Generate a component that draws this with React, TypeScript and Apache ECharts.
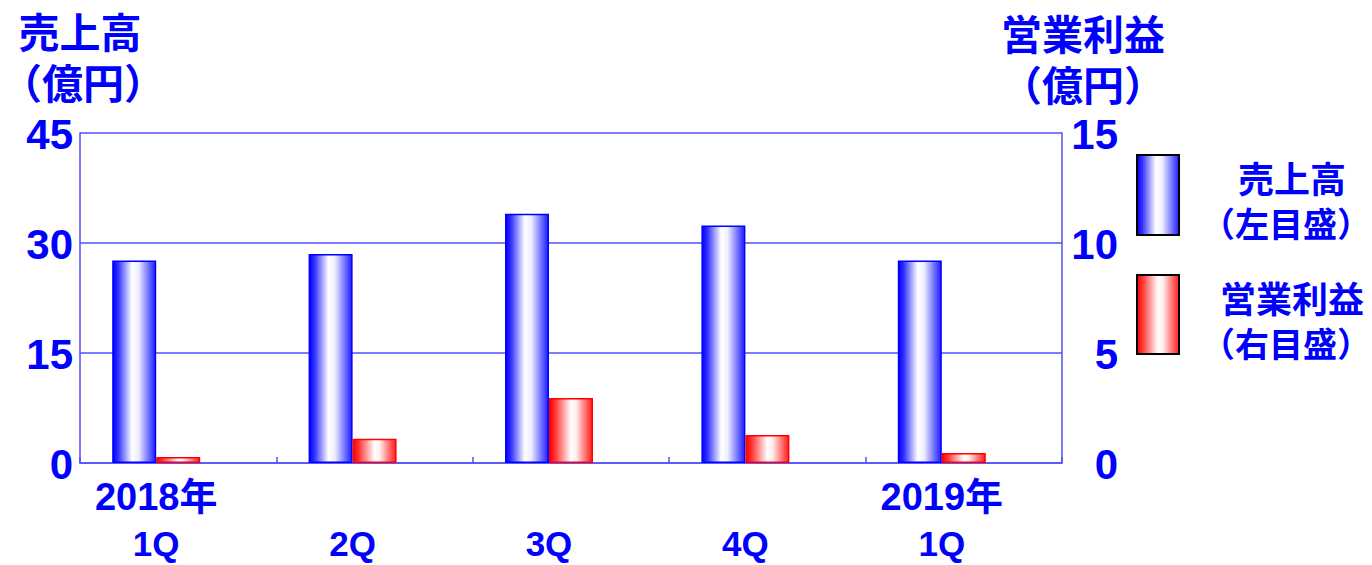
import React, { useEffect, useRef } from "react";
import * as echarts from "echarts";

const yearLabels = ["2018年", "", "", "", "2019年"];
const quarterLabels = ["1Q", "2Q", "3Q", "4Q", "1Q"];
const salesValues = [27.6, 28.5, 34.0, 32.4, 27.6];
const profitValues = [0.27, 1.1, 2.95, 1.27, 0.45];
const leftAxis = { min: 0, max: 45, interval: 15 };
const rightAxis = { min: 0, max: 15, interval: 5 };
const leftTitle = ["売上高", "（億円）"];
const rightTitle = ["営業利益", "（億円）"];
const salesLegend = ["売上高", "（左目盛）"];
const profitLegend = ["営業利益", "（右目盛）"];

const BLUE = "#0000ff";
const LINE = "#5050ff";
const CJK = "'Noto Sans CJK JP', sans-serif";
const LATIN = "'Liberation Sans', 'Noto Sans CJK JP', sans-serif";
const NARROW = "'Liberation Sans Narrow', 'Liberation Sans', sans-serif";

const blueGrad = {
  type: "linear",
  x: 0,
  y: 0,
  x2: 1,
  y2: 0,
  colorStops: [
    { offset: 0, color: "#0000ff" },
    { offset: 0.12, color: "#3030ff" },
    { offset: 0.45, color: "#ffffff" },
    { offset: 0.6, color: "#eeeeff" },
    { offset: 0.9, color: "#5050ff" },
    { offset: 1, color: "#2020ff" },
  ],
};
const redGrad = {
  type: "linear",
  x: 0,
  y: 0,
  x2: 1,
  y2: 0,
  colorStops: [
    { offset: 0, color: "#ff0000" },
    { offset: 0.12, color: "#ff3030" },
    { offset: 0.5, color: "#ffffff" },
    { offset: 0.62, color: "#ffeeee" },
    { offset: 0.9, color: "#ff5050" },
    { offset: 1, color: "#ff2020" },
  ],
};

function textEl(text: string, x: number, y: number, size: number) {
  return {
    type: "text",
    x,
    y,
    style: {
      text,
      fill: BLUE,
      font: `bold ${size}px ${CJK}`,
      align: "center",
      verticalAlign: "middle",
    },
  };
}

export default function App() {
  const ref = useRef<HTMLDivElement>(null);
  useEffect(() => {
    if (!ref.current) return;
    const chart = echarts.init(ref.current, undefined, { renderer: "svg" });
    const option: any = {
      animation: false,
      backgroundColor: "#ffffff",
      grid: { left: 80, right: 310, top: 133, bottom: 102, containLabel: false },
      xAxis: [
        {
          type: "category",
          data: yearLabels,
          boundaryGap: true,
          axisLine: { show: true, lineStyle: { color: LINE, width: 1.5 } },
          axisTick: { show: true, inside: true, length: 6, lineStyle: { color: LINE, width: 1.5 } },
          axisLabel: {
            color: BLUE,
            fontFamily: LATIN,
            fontWeight: "bold",
            fontSize: 38,
            lineHeight: 40,
            padding: [0, 44, 0, 0],
            margin: 14,
          },
        },
        {
          type: "category",
          data: quarterLabels,
          position: "bottom",
          boundaryGap: true,
          axisLine: { show: false },
          axisTick: { show: false },
          axisLabel: {
            color: BLUE,
            fontFamily: LATIN,
            fontWeight: "bold",
            fontSize: 35,
            lineHeight: 36,
            padding: [0, 44, 0, 0],
            margin: 62,
          },
        },
      ],
      yAxis: [
        {
          type: "value",
          ...leftAxis,
          position: "left",
          axisLine: { show: true, lineStyle: { color: LINE, width: 1.5 } },
          axisTick: { show: false },
          splitLine: { show: true, lineStyle: { color: LINE, width: 1.5 } },
          axisLabel: {
            color: BLUE,
            fontFamily: NARROW,
            fontWeight: "bold",
            fontSize: 42,
            margin: 7,
            verticalAlign: "top",
            padding: [-20, 0, 0, 0],
          },
        },
        {
          type: "value",
          ...rightAxis,
          position: "right",
          axisLine: { show: true, lineStyle: { color: LINE, width: 1.5 } },
          axisTick: { show: false },
          splitLine: { show: false },
          axisLabel: {
            color: BLUE,
            fontFamily: NARROW,
            fontWeight: "bold",
            fontSize: 42,
            margin: 56,
            align: "right",
            verticalAlign: "top",
            padding: [-20, 0, 0, 0],
          },
        },
      ],
      series: [
        {
          type: "bar",
          xAxisIndex: 0,
          yAxisIndex: 0,
          data: salesValues,
          barWidth: 44,
          barGap: "0%",
          itemStyle: { color: blueGrad, borderColor: BLUE, borderWidth: 1.5 },
        },
        {
          type: "bar",
          xAxisIndex: 0,
          yAxisIndex: 1,
          data: profitValues,
          barWidth: 44,
          barGap: "0%",
          itemStyle: { color: redGrad, borderColor: "#ff0000", borderWidth: 1.5 },
        },
        {
          type: "bar",
          xAxisIndex: 0,
          yAxisIndex: 0,
          data: salesValues.map(() => null),
          barWidth: 44,
          barGap: "0%",
          silent: true,
        },
      ],
      graphic: [
        textEl(leftTitle[0], 80, 30, 41),
        textEl(leftTitle[1], 83, 81, 41),
        textEl(rightTitle[0], 1083, 32, 41),
        textEl(rightTitle[1], 1083, 83, 41),
        {
          type: "rect",
          shape: { x: 1137, y: 155, width: 42, height: 80 },
          style: { fill: blueGrad, stroke: "#000000", lineWidth: 2 },
        },
        {
          type: "rect",
          shape: { x: 1137, y: 275, width: 42, height: 79 },
          style: { fill: redGrad, stroke: "#000000", lineWidth: 2 },
        },
        textEl(salesLegend[0], 1292, 177, 36),
        textEl(salesLegend[1], 1286, 222, 34),
        textEl(profitLegend[0], 1292, 297, 36),
        textEl(profitLegend[1], 1286, 342, 34),
      ],
    };
    chart.setOption(option);
    return () => chart.dispose();
  }, []);
  return (
    <div
      ref={ref}
      style={{ position: "absolute", left: 0, top: 0, width: 1372, height: 565 }}
    />
  );
}
